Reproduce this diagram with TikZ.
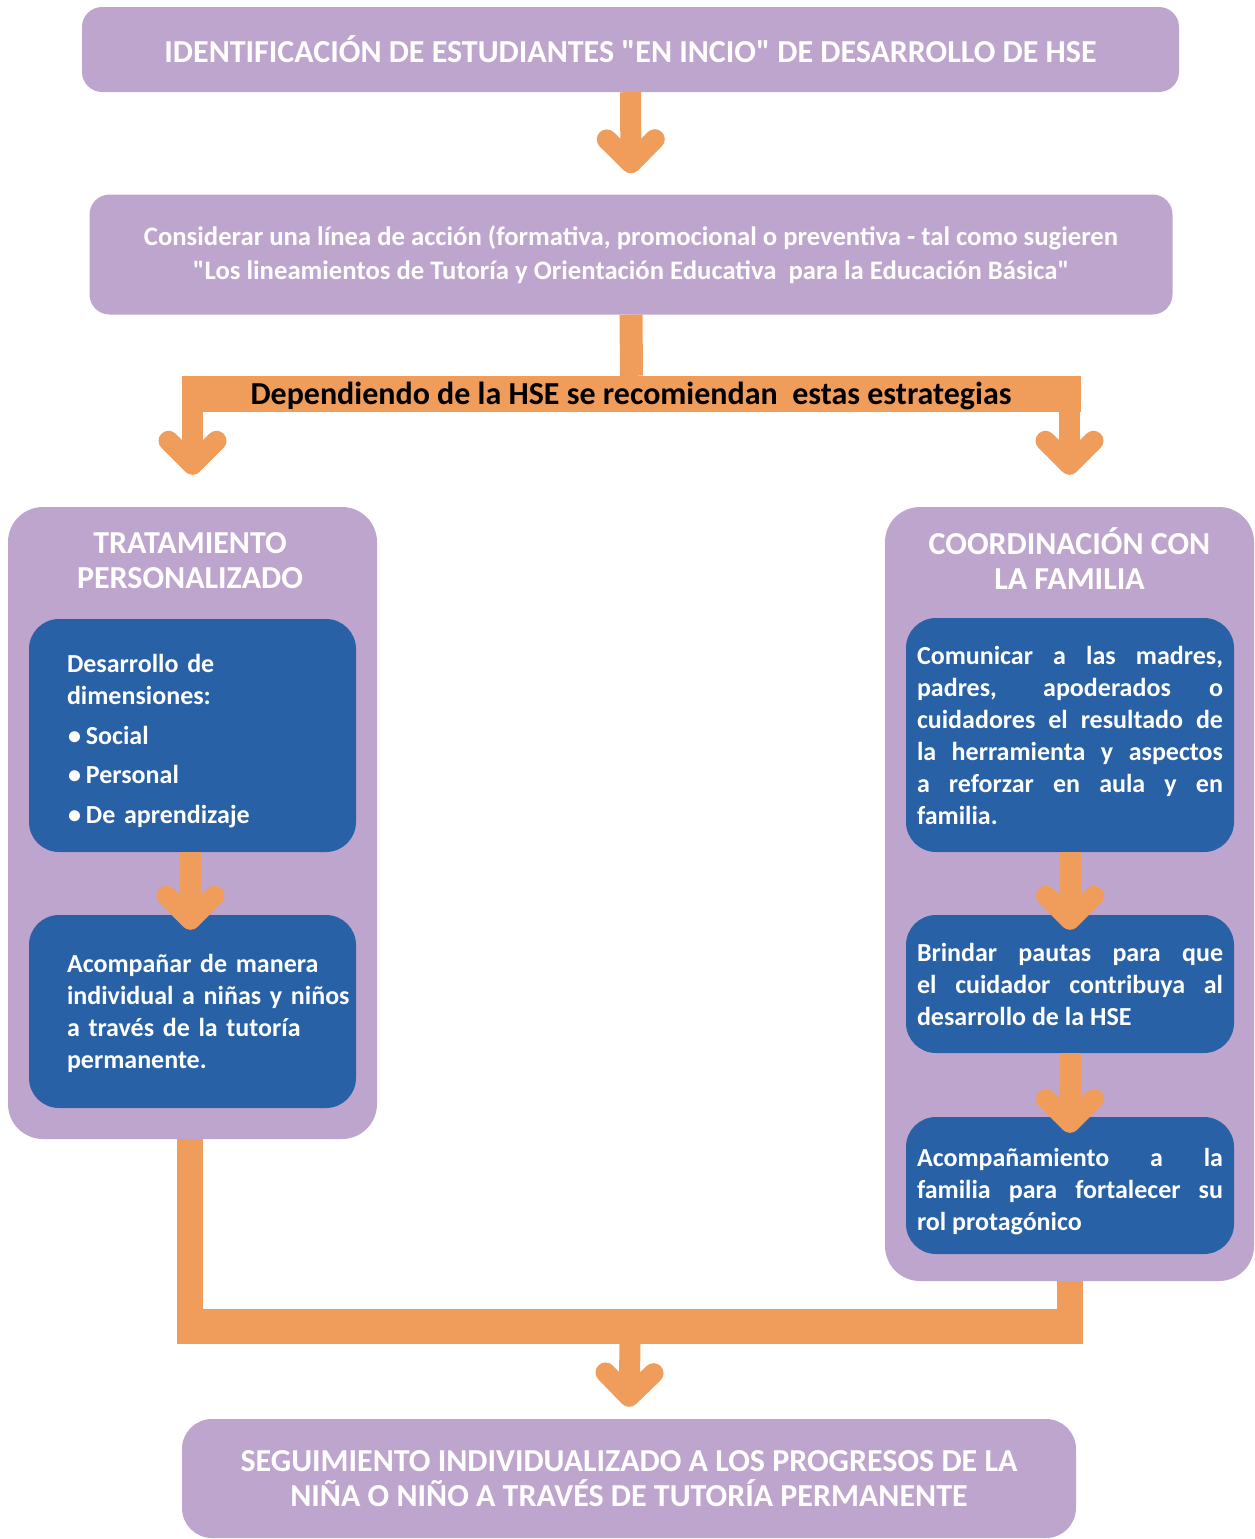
\documentclass[tikz,border=0pt]{standalone}
\usepackage{fontspec}
\setmainfont{Carlito}
\usetikzlibrary{arrows.meta,calc}
\definecolor{lila}{RGB}{190,165,205}
\definecolor{azul}{RGB}{41,97,167}
\definecolor{naranja}{RGB}{240,157,91}
\hyphenpenalty=10000
\exhyphenpenalty=10000
\tikzset{
  >={Straight Barb[length=24pt,width=48pt,line width=20pt,round]},
}
\tikzstyle{caja}=[fill=lila,text=white,rounded corners=20pt,inner sep=0pt,align=center]
\tikzstyle{bloque}=[fill=lila,rounded corners=35pt,inner sep=0pt]
\tikzstyle{titulo}=[text=white,align=center,font=\bfseries\fontsize{32}{35}\selectfont]
\tikzstyle{tarjeta}=[fill=azul,text=white,rounded corners=30pt,inner ysep=0pt,font=\bfseries\fontsize{26}{32}\selectfont]
\tikzstyle{flecha}=[naranja,line width=21pt,->]
\tikzstyle{tronco}=[naranja,line width=26pt]

\begin{document}
\begin{tikzpicture}[x=1pt,y=-1pt]
    \useasboundingbox (0,0) rectangle (1255,1539);
    % cabecera
    \node[caja,minimum width=1097,minimum height=85,font=\bfseries\fontsize{32}{35}\selectfont]
    (ident) at (630.5,49.5) {IDENTIFICACIÓN DE ESTUDIANTES \textquotedbl EN INCIO\textquotedbl{} DE DESARROLLO DE HSE};
    \node[caja,minimum width=1083,minimum height=120,font=\bfseries\fontsize{26.7}{34}\selectfont]
    (linea) at (631,254.5) {Considerar una línea de acción (formativa, promocional o preventiva - tal como sugieren\\
      \textquotedbl Los lineamientos de Tutoría y Orientación Educativa\ \ para la Educación Básica\textquotedbl};
    \node[fill=naranja,minimum width=899,minimum height=36,inner sep=0pt] (estrat) at (631.5,394) {};
    \node[font=\bfseries\fontsize{32}{35}\selectfont,inner sep=0pt] (estrat-txt) at (631,396)
    {Dependiendo de la HSE se recomiendan\ \ estas estrategias};

    % columnas
    \node[bloque,minimum width=369,minimum height=632] (trat) at (192.5,823) {};
    \node[bloque,minimum width=369,minimum height=774] (fam) at (1069.5,894) {};
    \node[titulo] (trat-tit) at (190,560.5) {TRATAMIENTO\\PERSONALIZADO};
    \node[titulo] (fam-tit) at (1069.5,558.5) {COORDINACIÓN CON\\LA FAMILIA};

    \node[tarjeta,minimum width=327,minimum height=233,text width=327,inner xsep=0pt,align=left]
    (des) at (192.5,735.5) {\leftskip=38pt Desarrollo de\\dimensiones:\\[8pt]
      \hspace*{1pt}\textbullet\hspace{5pt}Social\\[7pt]
      \hspace*{1pt}\textbullet\hspace{5pt}Personal\\[8pt]
      \hspace*{1pt}\textbullet\hspace{5pt}De aprendizaje\par\kern-12pt};
    \node[tarjeta,minimum width=327,minimum height=193,text width=327,inner xsep=0pt,align=left]
    (acomp) at (192.5,1011.5) {\leftskip=38pt Acompañar de manera\\individual a niñas y niños\\
      a través de la tutoría\\permanente.\par\kern-4pt};

    \node[tarjeta,minimum height=234,text width=306,inner xsep=11pt,align=justify]
    (com) at (1070,735) {Comunicar a las madres,\linebreak padres, apoderados o\linebreak
      cuidadores el resultado de\linebreak la herramienta y aspectos\linebreak
      a reforzar en aula y en\linebreak familia.};
    \node[tarjeta,minimum height=138,text width=306,inner xsep=11pt,align=justify]
    (brin) at (1070,984) {Brindar pautas para que\linebreak el cuidador contribuya al\linebreak
      desarrollo de la HSE};
    \node[tarjeta,minimum height=137,text width=306,inner xsep=11pt,align=justify]
    (acfam) at (1070,1185.5) {Acompañamiento a la\linebreak familia para fortalecer su\linebreak
      rol protagónico\par\kern-13pt};

    % cierre
    \node[caja,rounded corners=30pt,minimum width=894,minimum height=119,font=\bfseries\fontsize{32}{35}\selectfont]
    (seg) at (629,1478.5) {SEGUIMIENTO INDIVIDUALIZADO A LOS PROGRESOS DE LA\\
      NIÑA O NIÑO A TRAVÉS DE TUTORÍA PERMANENTE};

    % flechas
    \draw[flecha] (ident.south) -- ([yshift=21]linea.north);
    \draw[naranja,line width=23pt] (linea.south) -- (estrat.north);
    \draw[flecha] (estrat.south west -| trat.north) -- ([yshift=32]trat.north);
    \draw[flecha] (estrat.south east -| fam.north) -- ([yshift=32]fam.north);
    \draw[flecha] ([xshift=-2]des.south) -- ([xshift=-2,yshift=-15]acomp.north);
    \draw[flecha] (com.south) -- ([yshift=-15]brin.north);
    \draw[flecha] (brin.south) -- ([yshift=-16]acfam.north);

    \coordinate (union) at (630,1326.5);
    \draw[tronco] ([xshift=-2.5]trat.south) -- ([xshift=-2.5,yshift=-17.5]trat.south |- union);
    \draw[tronco] (fam.south) -- ([yshift=-17.5]fam.south |- union);
    \draw[naranja,line width=35pt] ([xshift=-15.5]trat.south |- union) -- ([xshift=13]fam.south |- union);
    \draw[flecha] ([yshift=-17.5]union) -- ([yshift=12]seg.north);
\end{tikzpicture}
\end{document}
